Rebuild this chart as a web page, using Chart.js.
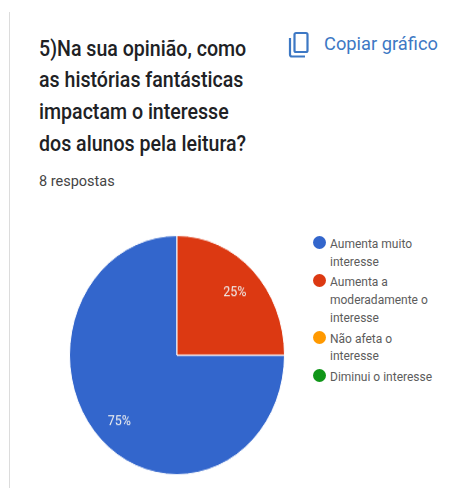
<!DOCTYPE html>
<html lang="pt">
<head>
<meta charset="utf-8">
<title>Copiar gráfico</title>
<script src="https://cdn.jsdelivr.net/npm/chart.js@4"></script>
<style>
    html, body { margin: 0; padding: 0; background: #fff; }
    body { width: 463px; height: 488px; overflow: hidden; position: relative; font-family: Roboto, sans-serif; }
    #rule { position: absolute; left: 9px; top: 12px; bottom: 0; width: 1px; background: #dcdcdc; }
    #Title { position: absolute; left: 39px; top: 33px; margin: 0; font-size: 19.6px; font-weight: 500; line-height: 29.4px;
             color: #202124; white-space: nowrap; transform: scaleY(1.08); transform-origin: 0 0; }
    #Count { position: absolute; left: 39px; top: 173px; font-size: 14.5px; line-height: 16px; color: #444;
             transform: scaleY(1.05); transform-origin: 0 0; }
    #Copy { position: absolute; left: 324px; top: 34px; font-size: 18.3px; line-height: 20px; color: #3d78c4; white-space: nowrap; }
    #CopyIcon { position: absolute; left: 288px; top: 31px; }
    #wrap { position: absolute; left: 69px; top: 235px; width: 216px; height: 216px; transform: scaleY(1.112); transform-origin: 0 0; }
    #Legend { position: absolute; left: 313px; top: 236px; margin: 0; padding: 0; list-style: none; }
    #Legend li { position: relative; padding-left: 17px; width: 106px; margin-bottom: 3.3px; font-size: 12px; line-height: 17.6px; color: #5c5c5c; }
    #Legend i { position: absolute; left: 0; top: 0; width: 13px; height: 13px; border-radius: 50%; }
</style>
</head>
<body>
<div id="rule"></div>
<h1 id="Title"></h1>
<div id="Count"></div>
<svg id="CopyIcon" width="22" height="28" viewBox="0 0 22 28" fill="none" stroke="#3d78c4" stroke-width="2.2">
    <rect x="6.5" y="2" width="13" height="19" rx="1.5"></rect>
    <path d="M2 7v16.5a2 2 0 0 0 2 2h13"></path>
</svg>
<div id="Copy"></div>
<div id="wrap"><canvas id="myChart" width="216" height="216"></canvas></div>
<ul id="Legend"></ul>

<script>
const titleLines = ["5)Na sua opinião, como", "as histórias fantásticas", "impactam o interesse", "dos alunos pela leitura?"];
const responses = "8 respostas";
const copyLabel = "Copiar gráfico";

const categories = ["Aumenta muito interesse", "Aumenta a moderadamente o interesse", "Não afeta o interesse", "Diminui o interesse"];
const percents = [75, 25, 0, 0];
const colors = ["#3366cc", "#dc3912", "#ff9900", "#109618"];

document.getElementById("Title").innerHTML = titleLines.join("<br>");
document.getElementById("Count").textContent = responses;
document.getElementById("Copy").textContent = copyLabel;

// legend next to the pie
categories.forEach((c, i) => {
    let li = document.createElement("li");
    let dot = document.createElement("i");
    dot.style.background = colors[i];
    li.appendChild(dot);
    li.appendChild(document.createTextNode(c));
    document.getElementById("Legend").appendChild(li);
});

// writes the percentage inside each non empty slice
const sliceLabels = {
    id: "sliceLabels",
    afterDatasetsDraw(chart) {
        const ctx = chart.ctx;
        const arcs = chart.getDatasetMeta(0).data;
        ctx.save();
        ctx.font = "12.5px Roboto, sans-serif";
        ctx.fillStyle = "#f0f0f0";
        ctx.textAlign = "center";
        ctx.textBaseline = "middle";
        arcs.forEach((arc, i) => {
            if (!percents[i]) return;
            const mid = (arc.startAngle + arc.endAngle) / 2;
            const r = arc.outerRadius * 0.76;
            ctx.fillText(percents[i] + "%", arc.x + Math.cos(mid) * r, arc.y + Math.sin(mid) * r + 2);
        });
        ctx.restore();
    }
};

new Chart(document.getElementById("myChart"), {
    type: "pie",
    data: {
        labels: categories,
        datasets: [{
            data: percents,
            backgroundColor: colors,
            borderColor: "#fff",
            borderWidth: 1,
            hoverOffset: 0
        }]
    },
    options: {
        responsive: false,
        animation: false,
        rotation: 90,
        layout: { padding: 0 },
        plugins: {
            legend: { display: false },
            tooltip: { enabled: false }
        }
    },
    plugins: [sliceLabels]
});
</script>
</body>
</html>
